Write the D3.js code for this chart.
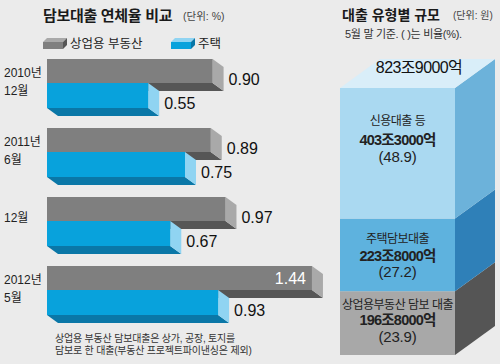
<!DOCTYPE html>
<html lang="ko">
<head>
<meta charset="utf-8">
<script src="https://cdn.jsdelivr.net/npm/d3@7"></script>
<style>
body { margin: 0; background: #ebebeb; }
svg { display: block; }
.kr { font-family: "Liberation Sans", "Noto Sans CJK KR", sans-serif; }
.num { font-family: "Liberation Sans Narrow", "Liberation Sans", "Noto Sans CJK KR", sans-serif; }
</style>
</head>
<body>
<script>
// 연체율 (%)
var periods = [["2010년", "12월"], ["2011년", "6월"], ["12월"], ["2012년", "5월"]];
var commercial = [0.90, 0.89, 0.97, 1.44];
var housing = [0.55, 0.75, 0.67, 0.93];
var seriesNames = ["상업용 부동산", "주택"];

// 대출 유형별 규모 (bottom to top)
var loanTypes = ["상업용부동산 담보 대출", "주택담보대출", "신용대출 등"];
var loanAmounts = ["196조8000억", "223조8000억", "403조3000억"];
var loanShares = [23.9, 27.2, 48.9];
var loanTotal = "823조9000억";

var width = 500, height = 364;

var svg = d3.select("body").append("svg")
	.attr("width", width)
	.attr("height", height);

svg.append("rect").attr("width", width).attr("height", height).attr("fill", "#ebebeb");

// ---------- left: 연체율 비교 ----------
var x = d3.scaleLinear().domain([0, 1.5]).range([47, 47 + 276]);
var y = d3.scaleBand().domain(d3.range(periods.length)).range([59, 59 + 69 * 4]);

var depthX = 11, depthY = 8;
var colGray = { front: "#7f7f7f", side: "#a9a9a9", bottom: "#565656" };
var colBlue = { front: "#08a2dc", side: "#90d4f2", bottom: "#0a77a7" };

function bar3d(g, x0, x1, y0, h, c) {
	var y1 = y0 + h;
	// bottom face
	g.append("path")
		.attr("d", "M" + x0 + "," + y1 + "L" + x1 + "," + y1 + "L" + (x1 + depthX) + "," + (y1 + depthY) +
			"L" + (x0 + depthX) + "," + (y1 + depthY) + "Z")
		.attr("fill", c.bottom);
	// side face
	g.append("path")
		.attr("d", "M" + x1 + "," + y0 + "L" + (x1 + depthX) + "," + (y0 + depthY) + "L" + (x1 + depthX) + "," + (y1 + depthY) +
			"L" + x1 + "," + y1 + "Z")
		.attr("fill", c.side);
	g.append("rect")
		.attr("x", x0).attr("y", y0)
		.attr("width", x1 - x0).attr("height", h)
		.attr("fill", c.front);
}

svg.append("text").attr("class", "kr")
	.attr("x", 43).attr("y", 21)
	.style("font-size", "15px").style("font-weight", "bold").style("letter-spacing", "-0.3px")
	.attr("fill", "#1a1a1a")
	.text("담보대출 연체율 비교");
svg.append("text").attr("class", "kr")
	.attr("x", 183).attr("y", 20)
	.style("font-size", "10.5px").attr("fill", "#444")
	.text("(단위: %)");

// legend
var legendX = [43, 171];
[colGray, colBlue].forEach(function(c, i) {
	var lx = legendX[i], ly = 42;
	svg.append("path")
		.attr("d", "M" + lx + "," + ly + "L" + (lx + 4) + "," + (ly - 4) + "L" + (lx + 24) + "," + (ly - 4) + "L" + (lx + 20) + "," + ly + "Z")
		.attr("fill", c.side);
	svg.append("path")
		.attr("d", "M" + (lx + 20) + "," + ly + "L" + (lx + 24) + "," + (ly - 4) + "L" + (lx + 24) + "," + (ly + 3) + "L" + (lx + 20) + "," + (ly + 7) + "Z")
		.attr("fill", c.bottom);
	svg.append("rect").attr("x", lx).attr("y", ly).attr("width", 20).attr("height", 7).attr("fill", c.front);
	svg.append("text").attr("class", "kr")
		.attr("x", lx + 27).attr("y", 48)
		.style("font-size", "12.5px").attr("fill", "#222")
		.text(seriesNames[i]);
});

var groups = svg.selectAll("g.period")
	.data(periods)
	.enter().append("g")
	.attr("class", "period");

groups.each(function(p, i) {
	var g = d3.select(this);
	var top = y(i);
	bar3d(g, x(0), x(commercial[i]), top, 24, colGray);
	bar3d(g, x(0), x(housing[i]), top + 24, 25, colBlue);

	var inside = commercial[i] > 1.2;
	g.append("text").attr("class", "num")
		.attr("x", inside ? x(commercial[i]) - 6 : x(commercial[i]) + depthX + 5)
		.attr("y", inside ? top + 18 : top + 26)
		.attr("text-anchor", inside ? "end" : "start")
		.style("font-size", "16px")
		.attr("fill", inside ? "#fff" : "#111")
		.text(commercial[i].toFixed(2));
	g.append("text").attr("class", "num")
		.attr("x", x(housing[i]) + depthX + 5)
		.attr("y", top + 24 + 26)
		.style("font-size", "16px")
		.attr("fill", "#111")
		.text(housing[i].toFixed(2));

	var lab = g.append("text").attr("class", "kr")
		.style("font-size", "12px").attr("fill", "#222");
	var cy = top + (p.length === 1 ? 25 : 18);
	p.forEach(function(s, k) {
		lab.append("tspan").attr("x", 4).attr("y", cy + k * 18).text(s);
	});
});

svg.append("text").attr("class", "kr")
	.attr("x", 55).attr("y", 342)
	.style("font-size", "10px").style("letter-spacing", "-0.2px").attr("fill", "#333")
	.text("상업용 부동산 담보대출은 상가, 공장, 토지를");
svg.append("text").attr("class", "kr")
	.attr("x", 55).attr("y", 354)
	.style("font-size", "10px").style("letter-spacing", "-0.2px").attr("fill", "#333")
	.text("담보로 한 대출(부동산 프로젝트파이낸싱은 제외)");

// ---------- right: 대출 유형별 규모 ----------
svg.append("text").attr("class", "kr")
	.attr("x", 342).attr("y", 20)
	.style("font-size", "14px").style("font-weight", "bold")
	.attr("fill", "#1a1a1a")
	.text("대출 유형별 규모");
svg.append("text").attr("class", "kr")
	.attr("x", 453).attr("y", 19)
	.style("font-size", "10px").attr("fill", "#444")
	.text("(단위: 원)");
svg.append("text").attr("class", "kr")
	.attr("x", 345).attr("y", 38)
	.style("font-size", "11px").style("letter-spacing", "-0.3px").attr("fill", "#333")
	.text("5월 말 기준. (  )는 비율(%).");

var bx0 = 340, bx1 = 455, bdx = 40, bdy = -29;
var yr = d3.scaleLinear().domain([0, 100]).range([355, 88]);
var stack = d3.cumsum(loanShares);
var fronts = ["#a8a8a8", "#5eb2de", "#aad9f1"];
var sides = ["#555555", "#2f80b8", "#6cb2da"];

loanShares.forEach(function(v, i) {
	var lo = i === 0 ? 0 : stack[i - 1];
	var yTop = yr(stack[i]), yBot = yr(lo);
	svg.append("rect")
		.attr("x", bx0).attr("y", yTop)
		.attr("width", bx1 - bx0).attr("height", yBot - yTop)
		.attr("fill", fronts[i]);
	svg.append("path")
		.attr("d", "M" + bx1 + "," + yTop + "L" + (bx1 + bdx) + "," + (yTop + bdy) + "L" + (bx1 + bdx) + "," + (yBot + bdy) +
			"L" + bx1 + "," + yBot + "Z")
		.attr("fill", sides[i]);
});

var yTopAll = yr(100);
svg.append("path")
	.attr("d", "M" + bx0 + "," + yTopAll + "L" + (bx0 + bdx) + "," + (yTopAll + bdy) + "L" + (bx1 + bdx) + "," + (yTopAll + bdy) +
		"L" + bx1 + "," + yTopAll + "Z")
	.attr("fill", "#d9eef9");

svg.append("text").attr("class", "num")
	.attr("x", 419).attr("y", 73)
	.attr("text-anchor", "middle")
	.style("font-size", "16px").style("letter-spacing", "-0.6px")
	.attr("fill", "#111")
	.text(loanTotal);

var labelOffsets = [[-14, 2, 19], [-12, 6, 22], [-28, -8, 9]];
loanShares.forEach(function(v, i) {
	var lo = i === 0 ? 0 : stack[i - 1];
	var cy = (yr(lo) + yr(stack[i])) / 2;
	var cx = (bx0 + bx1) / 2;
	var off = labelOffsets[i];
	svg.append("text").attr("class", "kr")
		.attr("x", cx).attr("y", cy + off[0])
		.attr("text-anchor", "middle")
		.style("font-size", "12px").style("letter-spacing", "-0.5px")
		.attr("fill", "#222")
		.text(loanTypes[i]);
	svg.append("text").attr("class", "num")
		.attr("x", cx).attr("y", cy + off[1])
		.attr("text-anchor", "middle")
		.style("font-size", "14.5px").style("font-weight", "bold").style("letter-spacing", "-0.8px")
		.attr("fill", "#222")
		.text(loanAmounts[i]);
	svg.append("text").attr("class", "num")
		.attr("x", cx).attr("y", cy + off[2])
		.attr("text-anchor", "middle")
		.style("font-size", "15px").style("letter-spacing", "-0.2px")
		.attr("fill", "#222")
		.text("(" + v.toFixed(1) + ")");
});
</script>
</body>
</html>
